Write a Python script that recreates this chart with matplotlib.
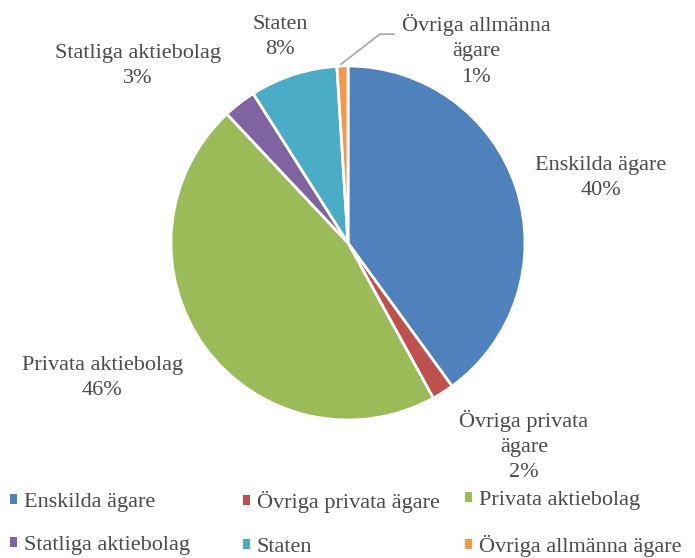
import numpy as np
import matplotlib
matplotlib.use("Agg")
import matplotlib.pyplot as plt

CATEGORIES = [
    "Enskilda ägare",
    "Övriga privata ägare",
    "Privata aktiebolag",
    "Statliga aktiebolag",
    "Staten",
    "Övriga allmänna ägare",
]
VALUES = [40, 2, 46, 3, 8, 1]
LABELS = [
    "Enskilda ägare\n40%",
    "Övriga privata\nägare\n2%",
    "Privata aktiebolag\n46%",
    "Statliga aktiebolag\n3%",
    "Staten\n8%",
    "Övriga allmänna\nägare\n1%",
]
COLORS = ["#4F81BD", "#C0504D", "#9BBB59", "#8064A2", "#4BACC6", "#F79646"]

# label placement (distance in radii, angle in degrees) per slice
LABEL_POS = [(1.476, 14.4), (1.518, -49.1), (1.585, -151.2),
             (1.552, 139.9), (1.226, 108.3), (1.308, 56.4)]

TEXT_COLOR = "#4A4A4A"
plt.rcParams["font.family"] = ["Liberation Serif", "DejaVu Serif"]

fig = plt.figure(figsize=(6.95, 5.58), dpi=100)
W, H = 695, 558
cx, cy, r = 348, 243, 177
ax = fig.add_axes([(cx - r) / W, (H - cy - r) / H, 2 * r / W, 2 * r / H])

wedges, _ = ax.pie(
    VALUES,
    colors=COLORS,
    startangle=90,
    counterclock=False,
    radius=1,
    wedgeprops=dict(edgecolor="white", linewidth=2),
)
ax.set_xlim(-1, 1)
ax.set_ylim(-1, 1)
ax.set_aspect("equal")
ax.axis("off")

for lab, (d, a) in zip(LABELS, LABEL_POS):
    x = d * np.cos(np.radians(a))
    y = d * np.sin(np.radians(a))
    ax.text(x, y, lab, ha="center", va="center", fontsize=16,
            color=TEXT_COLOR, linespacing=1.45, clip_on=False)

# leader line for the small slice
ax.plot([-0.04, 0.18, 0.26], [1.01, 1.18, 1.18], color="#A6A6A6", lw=1.2,
        clip_on=False)

# legend: three columns, placed like the original
col_x = [10, 243, 465]
for c in range(3):
    idx = [c, c + 3]
    leg = fig.legend(
        [wedges[i] for i in idx],
        [CATEGORIES[i] for i in idx],
        loc="center left",
        bbox_to_anchor=(col_x[c] / W, (H - 524) / H),
        frameon=False,
        fontsize=16,
        handlelength=0.32,
        handleheight=0.32,
        handletextpad=0.3,
        labelspacing=1.1,
        borderpad=0,
        borderaxespad=0,
    )
    for t in leg.get_texts():
        t.set_color(TEXT_COLOR)
    for h in leg.legend_handles:
        h.set_edgecolor("none")

fig.savefig("out.png", dpi=100)
